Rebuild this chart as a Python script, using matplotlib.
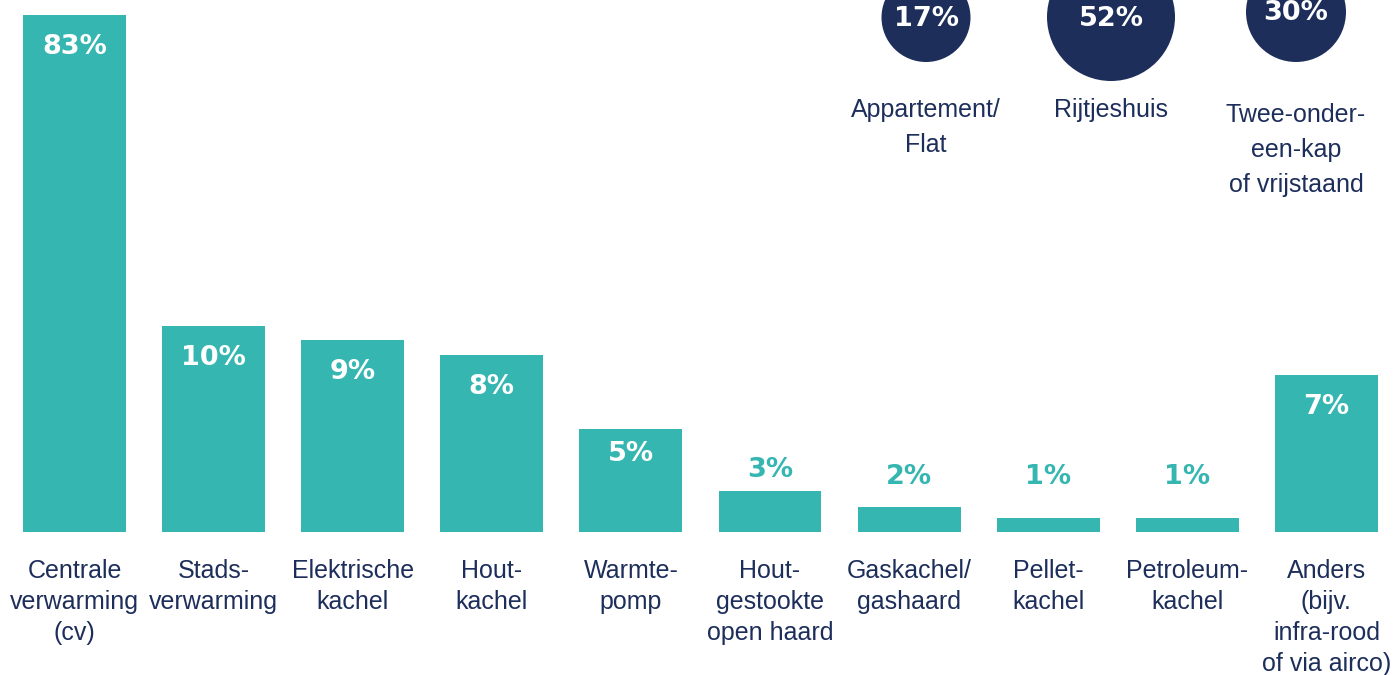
import matplotlib
matplotlib.use('Agg')
import matplotlib.pyplot as plt

# verwarming (soort) - staafjes
categories = ['Centrale\nverwarming\n(cv)', 'Stads-\nverwarming', 'Elektrische\nkachel',
              'Hout-\nkachel', 'Warmte-\npomp', 'Hout-\ngestookte\nopen haard',
              'Gaskachel/\ngashaard', 'Pellet-\nkachel', 'Petroleum-\nkachel',
              'Anders\n(bijv.\ninfra-rood\nof via airco)']
value_labels = ['83%', '10%', '9%', '8%', '5%', '3%', '2%', '1%', '1%', '7%']
# hoogte zoals getekend (de 83%-staaf is afgekapt)
bar_heights = [25.1, 10.0, 9.3, 8.6, 5.0, 2.0, 1.2, 0.7, 0.7, 7.6]

# woningtype - bollen
housing = ['Appartement/\nFlat', 'Rijtjeshuis', 'Twee-onder-\neen-kap\nof vrijstaand']
housing_labels = ['17%', '52%', '30%']

TEAL = '#35b6b1'
NAVY = '#1d2e5b'
W, H = 1395, 675
PX = 20.6        # pixels per eenheid
BASE = 532       # basislijn (px vanaf boven)
STEP, X0 = 139.1, 74.5
PT = 0.72        # px -> pt bij dpi 100

LABEL_FONT = dict(family='Liberation Sans', size=18, color=NAVY)
VALUE_FONT = dict(family='DejaVu Sans', size=19.5, weight='bold')

fig = plt.figure(figsize=(W / 100, H / 100), dpi=100)
ax = fig.add_axes([0, 0, 1, 1])
ax.set_xlim(-X0 / STEP, (W - X0) / STEP)
ax.set_ylim(-(H - BASE) / PX, BASE / PX)
ax.axis('off')

ax.bar(range(len(bar_heights)), bar_heights, width=0.74, color=TEAL)

for i, (h, lab) in enumerate(zip(bar_heights, value_labels)):
    hp = h * PX
    if hp > 90:
        off = min(39, 0.31 * hp)
        ax.annotate(lab, (i, h), xytext=(0, -off * PT), textcoords='offset points',
                    ha='center', va='baseline', color='white', **VALUE_FONT)
    else:
        off = max(hp + 14, 48) - hp
        ax.annotate(lab, (i, h), xytext=(0, off * PT), textcoords='offset points',
                    ha='center', va='baseline', color=TEAL, **VALUE_FONT)

for i, cat in enumerate(categories):
    for k, line in enumerate(cat.split('\n')):
        ax.annotate(line, (i, 0), xytext=(0, -(46 + 31 * k) * PT), textcoords='offset points',
                    ha='center', va='baseline', **LABEL_FONT)

# bollen rechtsboven
BX0, BSTEP = 926, 185
bubble_r = [44.5, 64, 50]
bubble_y = [17.5, 17, 12]
name_y = [117, 117, 122]
ax2 = fig.add_axes([0, 0, 1, 1])
ax2.set_xlim(-BX0 / BSTEP, (W - BX0) / BSTEP)
ax2.set_ylim(H, 0)
ax2.axis('off')
ax2.scatter(range(len(housing)), bubble_y, s=[(2 * r * PT) ** 2 for r in bubble_r],
            color=NAVY, linewidths=0, clip_on=False)
for i, (name, lab) in enumerate(zip(housing, housing_labels)):
    ax2.annotate(lab, (i, bubble_y[i]), xytext=(0, -8.5 * PT), textcoords='offset points',
                 ha='center', va='baseline', color='white', **VALUE_FONT)
    for k, line in enumerate(name.split('\n')):
        ax2.text(i, name_y[i] + 35 * k, line, ha='center', va='baseline', **LABEL_FONT)

fig.savefig('out.png', dpi=100)
